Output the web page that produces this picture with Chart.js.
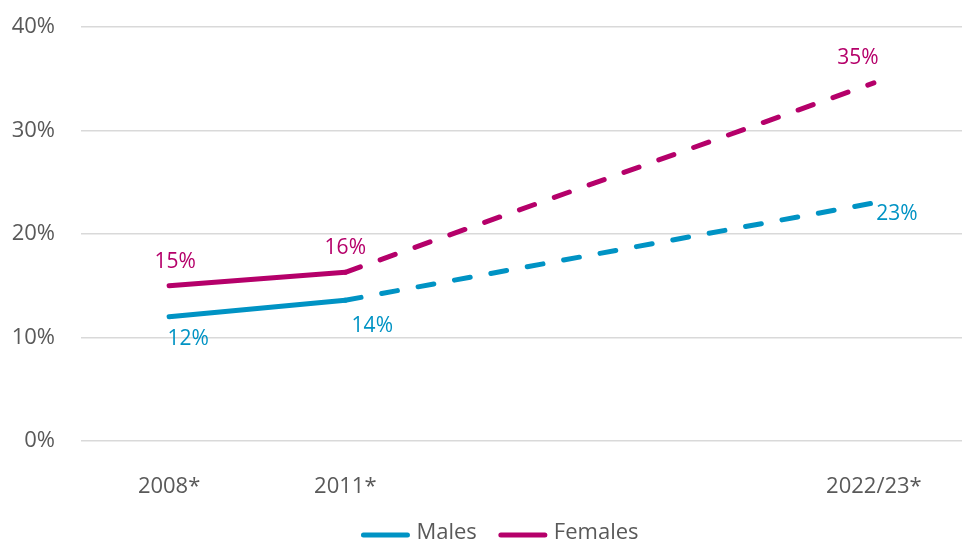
<!DOCTYPE html>
<html lang="en">
<head>
    <meta charset="UTF-8">
    <title>Males and Females</title>
    <script src="https://cdn.jsdelivr.net/npm/chart.js"></script>
    <style>
        body { margin: 0; background: #fff; }
    </style>
</head>
<body>
    <canvas id="myChart" width="962" height="544"></canvas>
    <script>
        // Categories (two blank slots keep the spacing of the original axis)
        const years = ['2008*', '2011*', '', '', '2022/23*'];

        // Measured values (solid part = survey years, dashed part = projection)
        const malesSolid = [12, 13.6, null, null, null];
        const malesDashed = [null, 13.6, null, null, 23];
        const femalesSolid = [15, 16.3, null, null, null];
        const femalesDashed = [null, 16.3, null, null, 34.6];

        // Printed labels
        const malesLabels = ['12%', '14%', '', '', '23%'];
        const femalesLabels = ['15%', '16%', '', '', '35%'];

        const blue = '#0093C4';
        const magenta = '#B5006A';
        const grey = '#595959';
        const font = '"Open Sans", "Liberation Sans", sans-serif';

        // Draw the percentage labels next to the points
        const pointLabels = {
            id: 'pointLabels',
            afterDatasetsDraw(chart) {
                const c = chart.ctx;
                const sets = [
                    { ds: 0, text: malesLabels, color: blue, off: [[19, 22], [27, 26], null, null, [23, 11]] },
                    { ds: 1, text: femalesLabels, color: magenta, off: [[6, -24], [0, -24], null, null, [-16, -25]] }
                ];
                c.save();
                c.font = '21px ' + font;
                c.textAlign = 'center';
                c.textBaseline = 'middle';
                sets.forEach(s => {
                    s.text.forEach((t, i) => {
                        if (!t) return;
                        const dsIndex = (i === 4) ? s.ds + 2 : s.ds;
                        const pt = chart.getDatasetMeta(dsIndex).data[i];
                        c.fillStyle = s.color;
                        c.fillText(t, pt.x + s.off[i][0], pt.y + s.off[i][1]);
                    });
                });
                c.restore();
            }
        };

        // Legend under the axis: only the two solid series
        const bottomLegend = {
            id: 'bottomLegend',
            afterDraw(chart) {
                const c = chart.ctx;
                const items = chart.data.datasets.slice(0, 2);
                c.save();
                c.font = '22px ' + font;
                c.textBaseline = 'middle';
                const boxW = 48, gap = 7, itemGap = 22;
                const widths = items.map(d => boxW + gap + c.measureText(d.label).width);
                const total = widths.reduce((a, b) => a + b, 0) + itemGap * (items.length - 1);
                let x = 500 - total / 2;
                const y = 533;
                items.forEach((d, i) => {
                    c.strokeStyle = d.borderColor;
                    c.lineWidth = 5;
                    c.lineCap = 'round';
                    c.beginPath();
                    c.moveTo(x + 2, y + 2);
                    c.lineTo(x + boxW - 2, y + 2);
                    c.stroke();
                    c.fillStyle = grey;
                    c.fillText(d.label, x + boxW + gap, y);
                    x += widths[i] + itemGap;
                });
                c.restore();
            }
        };

        const ctx = document.getElementById('myChart').getContext('2d');
        new Chart(ctx, {
            type: 'line',
            data: {
                labels: years,
                datasets: [
                    { label: 'Males', data: malesSolid, borderColor: blue, backgroundColor: blue },
                    { label: 'Females', data: femalesSolid, borderColor: magenta, backgroundColor: magenta },
                    { label: 'Males projected', data: malesDashed, borderColor: blue, backgroundColor: blue, borderDash: [16, 21], spanGaps: true },
                    { label: 'Females projected', data: femalesDashed, borderColor: magenta, backgroundColor: magenta, borderDash: [16, 21], spanGaps: true }
                ]
            },
            options: {
                responsive: false,
                animation: false,
                layout: { padding: { left: 0, right: 0, top: 27, bottom: 0 } },
                elements: {
                    line: { borderWidth: 5, tension: 0, borderCapStyle: 'round', borderJoinStyle: 'round' },
                    point: { radius: 0, hoverRadius: 0 }
                },
                scales: {
                    x: {
                        offset: true,
                        afterFit: s => { s.height = 103; },
                        grid: { display: false, drawTicks: false },
                        border: { display: false },
                        ticks: {
                            autoSkip: false,
                            maxRotation: 0,
                            padding: 35,
                            color: grey,
                            font: { family: font, size: 22, lineHeight: 1 }
                        }
                    },
                    y: {
                        min: 0,
                        max: 40,
                        afterFit: s => { s.width = 81; s.paddingTop = 0; s.paddingBottom = 0; },
                        grid: { color: '#d9d9d9', lineWidth: 1.5, drawTicks: false },
                        border: { display: false },
                        ticks: {
                            stepSize: 10,
                            padding: 26,
                            color: grey,
                            font: { family: font, size: 22 },
                            callback: v => v + '%'
                        }
                    }
                },
                plugins: {
                    tooltip: { enabled: false },
                    legend: { display: false }
                }
            },
            plugins: [pointLabels, bottomLegend]
        });
    </script>
</body>
</html>
